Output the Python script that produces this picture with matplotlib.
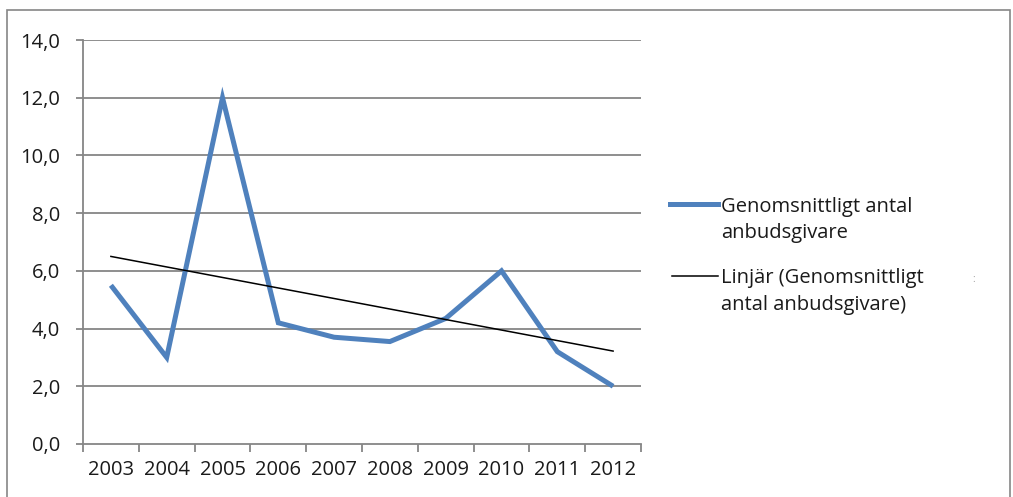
import matplotlib
matplotlib.use("Agg")
import matplotlib.pyplot as plt
from matplotlib.lines import Line2D
from matplotlib.patches import Rectangle
from matplotlib.transforms import blended_transform_factory
import numpy as np

# Data
years = ["2003", "2004", "2005", "2006", "2007", "2008", "2009", "2010", "2011", "2012"]
avg_bidders = [5.5, 3.0, 12.0, 4.2, 3.7, 3.55, 4.35, 6.0, 3.2, 2.0]
trend_ends = [6.5, 3.22]  # linear trend at first and last year
y_ticks = [0, 2, 4, 6, 8, 10, 12, 14]
series_label = ["Genomsnittligt antal", "anbudsgivare"]
trend_label = ["Linjär (Genomsnittligt", "antal anbudsgivare)"]

W, H, DPI = 1013, 497, 100
BLUE = "#4F81BD"
GRID = "#868686"
TXT = "#1A1A1A"
FONT = "Open Sans"
FS = 14.5

fig = plt.figure(figsize=(W / DPI, H / DPI), dpi=DPI)
fig.patch.set_facecolor("white")


def px(xp, yp):
    return xp / W, 1 - yp / H


# chart frame
fig.add_artist(Rectangle((7 / W, -0.05), (1010 - 7) / W, 1.05 - 10 / H,
                         transform=fig.transFigure, fill=False,
                         edgecolor=GRID, linewidth=1.2))

# plot area in pixels: x 83..641, y 40..444
ax = fig.add_axes([83 / W, 1 - 444 / H, (641 - 83) / W, (444 - 40) / H])
n = len(years)
x = np.arange(n)
ax.set_xlim(-0.5, n - 0.5)
ax.set_ylim(0, 14)

for v in y_ticks[1:]:
    ax.axhline(v, color=GRID, linewidth=1.3, zorder=1)

ax.plot(x, avg_bidders, color=BLUE, linewidth=3.6, solid_joinstyle="miter",
        solid_capstyle="butt", zorder=3)
ax.plot([x[0], x[-1]], trend_ends, color="black", linewidth=1.1, zorder=4)

for s in ["top", "right"]:
    ax.spines[s].set_visible(False)
for s in ["left", "bottom"]:
    ax.spines[s].set_color(GRID)
    ax.spines[s].set_linewidth(1.3)

ax.set_yticks(y_ticks)
ax.set_yticklabels([f"{v:.1f}".replace(".", ",") for v in y_ticks],
                   fontfamily=FONT, fontsize=FS, color=TXT)
ax.tick_params(axis="y", length=5, width=1.3, color=GRID, pad=11.5)

ax.set_xticks(np.arange(n + 1) - 0.5)
ax.set_xticklabels([""] * (n + 1))
ax.tick_params(axis="x", length=6, width=1.3, color=GRID)
xlab_tf = blended_transform_factory(ax.transData, fig.transFigure)
for i, yr in enumerate(years):
    fig.text(i, 1 - 475 / H, yr, ha="center", va="baseline", fontfamily=FONT,
             fontsize=FS, color=TXT, transform=xlab_tf)

# legend
fig.add_artist(Line2D([670 / W, 718 / W], [1 - 203.5 / H] * 2, color=BLUE,
                      linewidth=3.6, transform=fig.transFigure))
fig.add_artist(Line2D([672 / W, 718 / W], [1 - 275.5 / H] * 2, color="black",
                      linewidth=1.1, transform=fig.transFigure))
for line, yb in zip(series_label + trend_label, [212, 238, 283, 310]):
    fig.text(*px(721, yb), line, ha="left", va="baseline", fontfamily=FONT,
             fontsize=FS, color=TXT)
fig.text(*px(974, 279), ":", ha="center", va="center", fontfamily=FONT,
         fontsize=7, color="#9A9A9A")

fig.savefig("out.png", dpi=DPI, facecolor="white")
